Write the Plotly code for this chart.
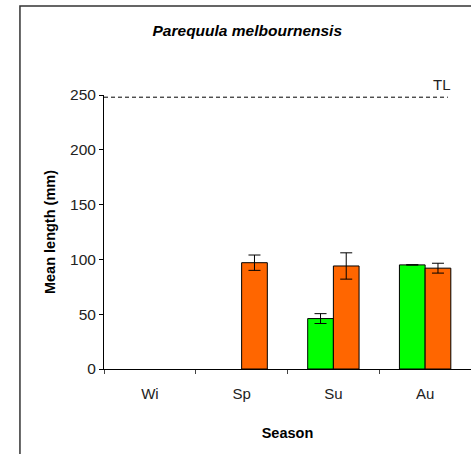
import plotly.graph_objects as go

seasons = ["Wi", "Sp", "Su", "Au"]
green_vals = [None, None, 46, 95]
green_err = [None, None, 4.5, None]
orange_vals = [None, 97, 94, 92]
orange_err = [None, 7, 12, 4.5]
tl_value = 248
y_ticks = [0, 50, 100, 150, 200, 250]

FONT = "Liberation Sans, Arial, sans-serif"

fig = go.Figure()
fig.add_trace(go.Bar(
    x=seasons, y=green_vals, name="green",
    marker=dict(color="#00FF00", line=dict(color="black", width=1)),
    error_y=dict(type="data", array=green_err, visible=True, color="black", thickness=1, width=6),
))
fig.add_trace(go.Bar(
    x=seasons, y=orange_vals, name="orange",
    marker=dict(color="#FF6600", line=dict(color="black", width=1)),
    error_y=dict(type="data", array=orange_err, visible=True, color="black", thickness=1, width=6),
))

fig.add_hline(y=tl_value, line=dict(color="black", width=1, dash="4px,3px"), x0=0, x1=0.937)
fig.add_annotation(x=0.92, y=tl_value, xref="paper", yref="y", text="TL", showarrow=False,
                   xanchor="center", yanchor="bottom", yshift=2,
                   font=dict(family=FONT, size=15, color="#222222"))

# outer frame
fig.add_shape(type="rect", xref="paper", yref="paper", x0=-0.229, x1=1.2, y0=-0.5, y1=1.325,
              line=dict(color="#333333", width=1.5), fillcolor="rgba(0,0,0,0)", layer="below")

fig.update_layout(
    width=471, height=454,
    margin=dict(l=104, r=0, t=95, b=85),
    paper_bgcolor="white", plot_bgcolor="white",
    showlegend=False,
    barmode="group", bargap=0.44, bargroupgap=0,
    title=dict(text="<b><i>Parequula melbournensis</i></b>", x=0.525, xanchor="center",
               y=0.932, yanchor="middle", font=dict(family=FONT, size=15.5, color="black")),
    font=dict(family=FONT, color="black"),
)
fig.update_xaxes(
    showline=True, linecolor="black", linewidth=1,
    ticks="outside", tickson="boundaries", ticklen=4, tickcolor="#444444",
    ticklabelstandoff=11,
    tickfont=dict(family=FONT, size=15, color="#222222"),
    title=dict(text="<b>Season</b>", font=dict(family=FONT, size=14.5, color="black"), standoff=26),
    showgrid=False,
)
fig.update_yaxes(
    range=[0, 250], tickvals=y_ticks,
    showline=True, linecolor="black", linewidth=1,
    ticks="outside", ticklen=4, tickcolor="black",
    tickfont=dict(family=FONT, size=15.5, color="#222222"),
    title=dict(text="<b>Mean length (mm)</b>", font=dict(family=FONT, size=14.5, color="black"), standoff=10),
    showgrid=False, zeroline=False,
)

fig.write_html("out.html")
